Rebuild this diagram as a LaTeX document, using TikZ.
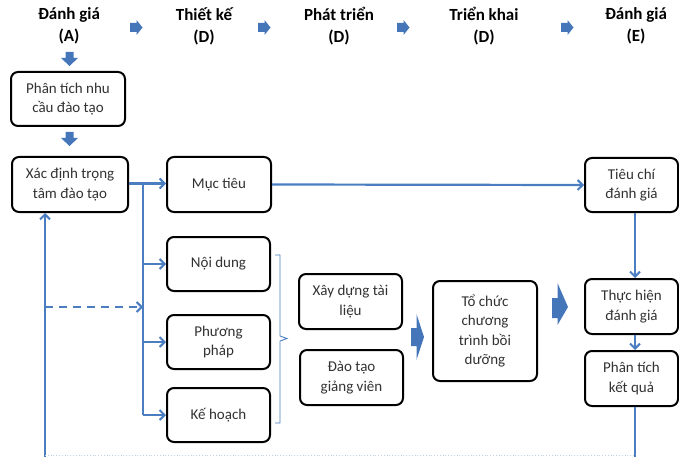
\documentclass[tikz,border=0pt]{standalone}
\usepackage{fontspec}
\setmainfont{Carlito}
\usetikzlibrary{arrows.meta}
\definecolor{lineblue}{RGB}{74,126,193}
\definecolor{fillblue}{RGB}{70,118,186}
\definecolor{textgray}{RGB}{50,50,50}
\tikzset{
  box/.style={draw=black, line width=2pt, rounded corners=7pt, fill=white,
    align=center, text=textgray, font=\fontsize{15}{19.5}\selectfont,
    inner sep=0pt, anchor=north west},
  hdr/.style={align=center, font=\bfseries\fontsize{17}{22}\selectfont, text=black},
  conn/.style={draw=lineblue, line width=2.2pt},
  arr/.style={conn, -{Straight Barb[length=5pt,width=10pt,line width=2pt]}},
}
\begin{document}
\begin{tikzpicture}[x=1pt,y=-1pt]
\useasboundingbox (0,0) rectangle (679,457);

% phase headers
\node[hdr] (h1) at (69,26) {Đánh giá\\(A)};
\node[hdr] (h2) at (204,26) {Thiết kế\\(D)};
\node[hdr] (h3) at (339,26) {Phát triển\\(D)};
\node[hdr] (h4) at (484,26) {Triển khai\\(D)};
\node[hdr] (h5) at (636,26) {Đánh giá\\(E)};

% small block arrows between headers
\foreach \xx in {130,258,397,561}{
  \fill[fillblue] (\xx,23) -- (\xx+6.5,23) -- (\xx+6.5,20) -- (\xx+12.5,27.5)
    -- (\xx+6.5,35) -- (\xx+6.5,32) -- (\xx,32) -- cycle;
}
% small downward block arrows
\foreach \yy in {52,132}{
  \fill[fillblue] (65.5,\yy) -- (73.5,\yy) -- (73.5,\yy+6) -- (78,\yy+6) -- (69.5,\yy+14)
    -- (61,\yy+6) -- (65.5,\yy+6) -- cycle;
}

% boxes
\node[box, minimum width=114pt, minimum height=54pt] (pt) at (10,71) {Phân tích nhu\\cầu đào tạo};
\node[box, minimum width=116pt, minimum height=55pt] (xd) at (11,156) {Xác định trọng\\tâm đào tạo};
\node[box, minimum width=104pt, minimum height=55pt] (mt) at (166,156) {Mục tiêu};
\node[box, minimum width=103pt, minimum height=54pt] (nd) at (166,236) {Nội dung};
\node[box, minimum width=103pt, minimum height=54pt] (pp) at (166,314) {Phương\\pháp};
\node[box, minimum width=103pt, minimum height=54pt] (kh) at (166,387) {Kế hoạch};
\node[box, minimum width=103pt, minimum height=55pt] (xt) at (298,273) {Xây dựng tài\\liệu};
\node[box, minimum width=103pt, minimum height=55pt] (dg) at (299,349) {Đào tạo\\giảng viên};
\node[box, minimum width=104pt, minimum height=100pt] (tc) at (432,280) {Tổ chức\\chương\\trình bồi\\dưỡng};
\node[box, minimum width=93pt, minimum height=54pt] (tcd) at (584,157) {Tiêu chí\\đánh giá};
\node[box, minimum width=93pt, minimum height=55pt] (th) at (584,278) {Thực hiện\\đánh giá};
\node[box, minimum width=93pt, minimum height=55pt] (pk) at (584,350) {Phân tích\\kết quả};

% brace grouping the design items
\draw[lineblue, line width=0.9pt] (275,255) -- (280,255) -- (280,336) -- (287,338.5)
  -- (280,341) -- (280,423) -- (275,423);

% large block arrows
\fill[fillblue] (411,328) -- (416.5,328) -- (416.5,314) -- (424,337) -- (416.5,360)
  -- (416.5,346) -- (411,346) -- cycle;
\fill[fillblue] (552,298) -- (557.5,298) -- (557.5,283) -- (568,307) -- (557.5,325)
  -- (557.5,318) -- (552,318) -- cycle;

% connectors
\coordinate (jt) at (143,183.5);
\coordinate (jb) at (143,415);
\coordinate (bl) at (45,455);
\coordinate (br) at (635,455);
\coordinate (dl) at (45,307);
\draw[arr] (xd.east |- jt) -- (mt.west |- jt);
\draw[conn] (jt) -- (jb);
\draw[arr] (jt |- nd.west) -- (nd.west);
\draw[arr] (jt |- pp.west) -- (pp.west);
\draw[arr] (jb) -- (kh.west |- jb);
\draw[arr, dashed, dash pattern=on 8pt off 6pt] (dl) -- (jt |- dl);
\draw[arr] (mt.east) -- (tcd.west);
\draw[arr] (tcd.south -| br) -- (th.north -| br);
\draw[arr] (th.south -| br) -- (pk.north -| br);
\draw[conn] (pk.south -| br) -- (635,457);
\draw[arr] (45,457) -- (xd.south -| bl);
\draw[lineblue!35, line width=0.8pt, dotted] (bl) -- (br);
\end{tikzpicture}
\end{document}
